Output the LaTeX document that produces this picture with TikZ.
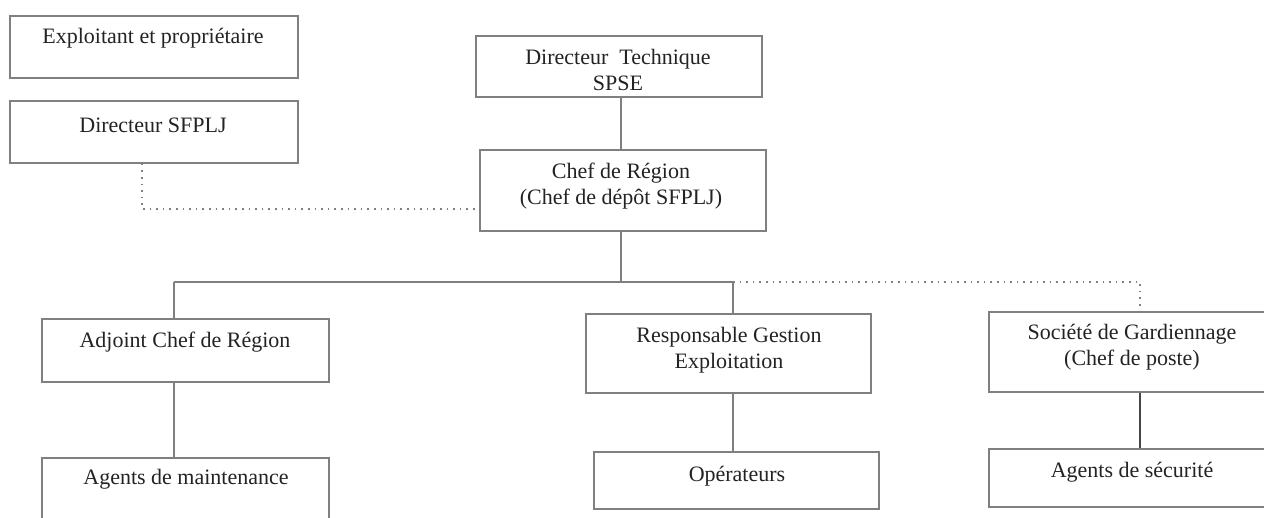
\documentclass[tikz,border=0pt]{standalone}
\usepackage{fontspec}
\setmainfont{Liberation Serif}
\definecolor{linegray}{RGB}{128,128,128}
\definecolor{darkline}{RGB}{70,70,70}
\definecolor{txtcol}{RGB}{35,35,35}
\begin{document}
\begin{tikzpicture}[x=1pt,y=-1pt,
  box/.style={draw=linegray, line width=1.6pt, inner sep=0pt, rectangle},
  txt/.style={text=txtcol, align=center, inner sep=0pt, font=\fontsize{22}{26}\selectfont},
  conn/.style={draw=linegray, line width=1.6pt},
  dotconn/.style={draw=linegray, line width=1.6pt, dash pattern=on 1.6pt off 5pt},
]
\useasboundingbox (0,0) rectangle (1264,518);
\clip (0,0) rectangle (1264,518);
\fill[white] (0,0) rectangle (1264,518);

% boxes
\node[box, minimum width=288pt, minimum height=62pt] (A) at (154,47) {};
\node[box, minimum width=288pt, minimum height=62pt] (B) at (154,132) {};
\node[box, minimum width=286pt, minimum height=61pt] (C) at (619,66.5) {};
\node[box, minimum width=286pt, minimum height=81pt] (D) at (623,190.5) {};
\node[box, minimum width=287pt, minimum height=63pt] (E) at (185.5,350.5) {};
\node[box, minimum width=287pt, minimum height=77pt] (F) at (185.5,496.5) {};
\node[box, minimum width=285pt, minimum height=79pt] (G) at (728.5,353.5) {};
\node[box, minimum width=285pt, minimum height=57pt] (H) at (736.5,480.5) {};
\node[box, minimum width=291pt, minimum height=80pt] (I) at (1134.5,352) {};
\node[box, minimum width=291pt, minimum height=58pt] (J) at (1134.5,478) {};

% texts
\node[txt] (tA) at (153,38) {Exploitant et propriétaire};
\node[txt] (tB) at (153,125) {Directeur SFPLJ};
\node[txt] (tC) at (618,70) {Directeur\ \ Technique\\SPSE};
\node[txt] (tD) at (621,186) {Chef de Région\\(Chef de dépôt SFPLJ)};
\node[txt] (tE) at (185,342) {Adjoint Chef de Région};
\node[txt] (tF) at (186,479) {Agents de maintenance};
\node[txt] (tG) at (729,350) {Responsable Gestion\\Exploitation};
\node[txt] (tH) at (737,476) {Opérateurs};
\node[txt] (tI) at (1132,347) {Société de Gardiennage\\(Chef de poste)};
\node[txt] (tJ) at (1132,472) {Agents de sécurité};

% coordinates
\coordinate (busL) at (174,282);
\coordinate (busM) at (621,282);
\coordinate (busR) at (733,282);
\coordinate (dotR) at (1140,282);
\coordinate (bd) at (142,209);

% connectors
\draw[conn] (C.south -| busM) -- (D.north -| busM);
\draw[conn] (D.south -| busM) -- (busM);
\draw[conn] (busL) -- (busR);
\draw[conn] (busL) -- (E.north -| busL);
\draw[conn] (busR) -- (G.north -| busR);
\draw[conn] (E.south -| busL) -- (F.north -| busL);
\draw[conn] (G.south -| busR) -- (H.north -| busR);
\draw[draw=darkline, line width=1.6pt] (I.south -| dotR) -- (J.north -| dotR);
\draw[dotconn] (busR) -- (dotR) -- (I.north -| dotR);
\draw[dotconn] (B.south -| bd) -- (bd) -- (bd -| D.west);
\end{tikzpicture}
\end{document}
